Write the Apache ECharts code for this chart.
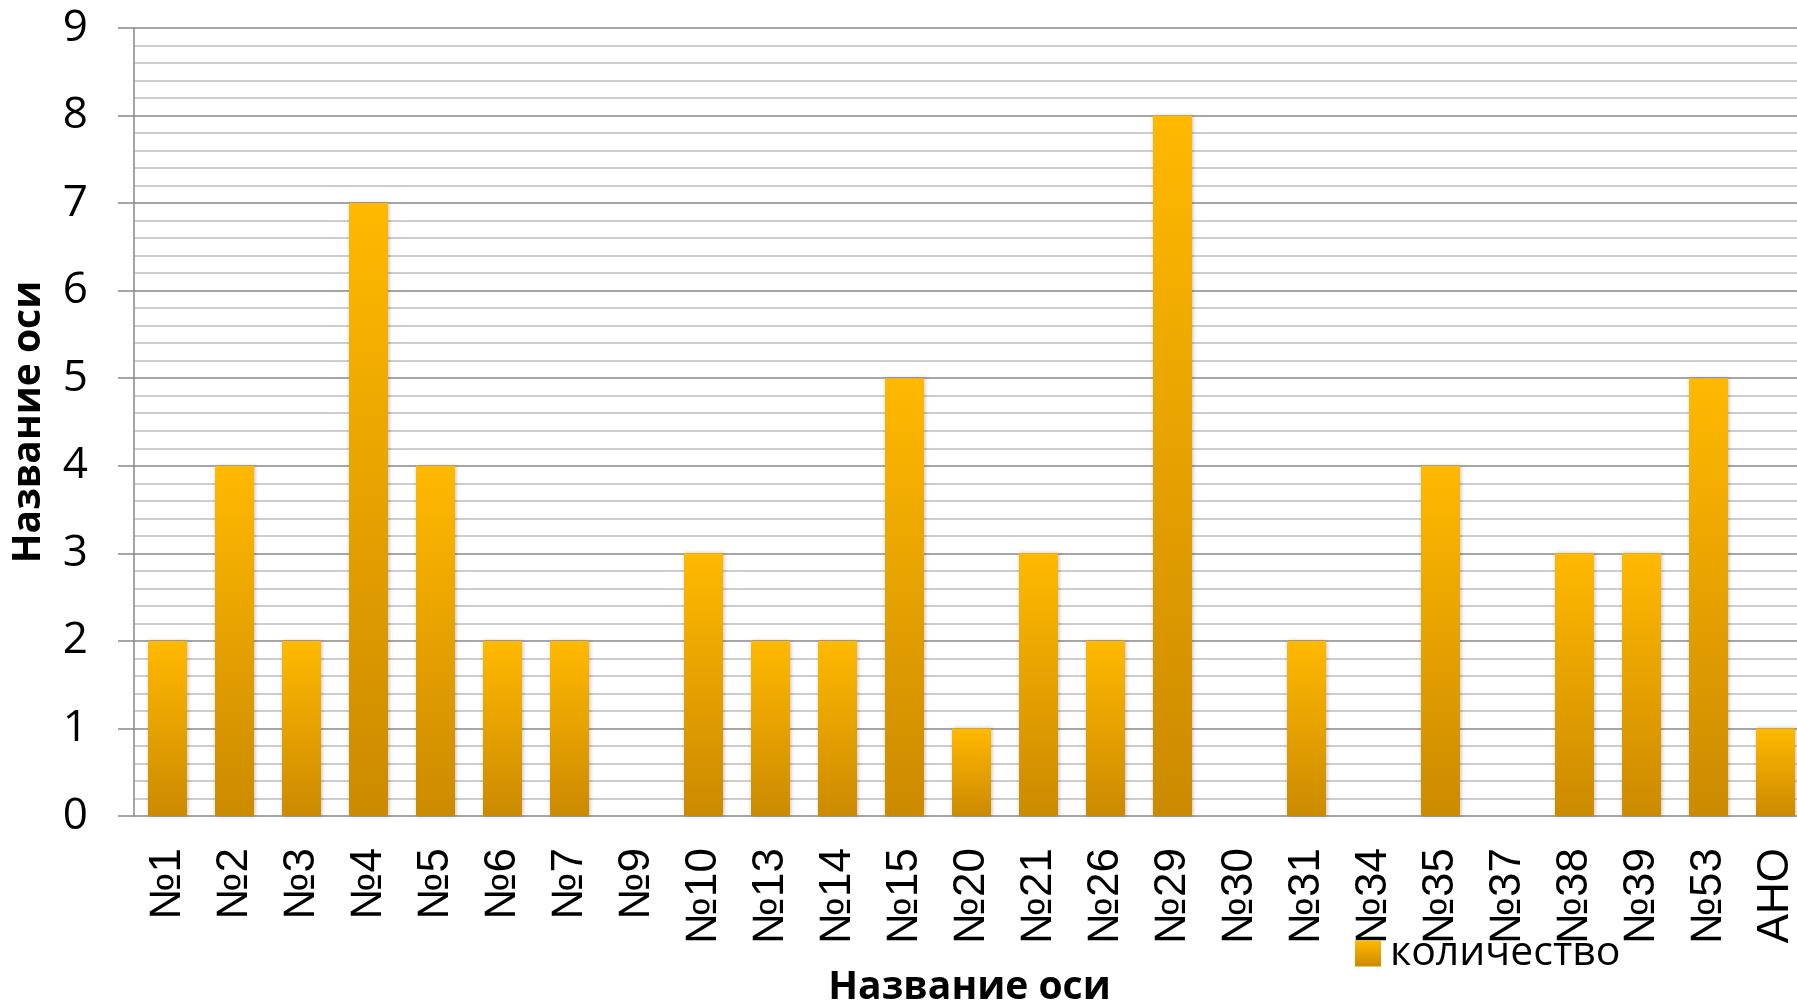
<!DOCTYPE html>
<html>
<head>
<meta charset="utf-8">
<script src="https://cdn.jsdelivr.net/npm/echarts@6/dist/echarts.min.js"></script>
<style>
    html, body { margin: 0; padding: 0; background: #fff; }
    #chart1 { width: 1797px; height: 1002px; }
</style>
</head>
<body>
<div id="chart1"></div>
<script>
// данные
var categories = ['№1', '№2', '№3', '№4', '№5', '№6', '№7', '№9', '№10', '№13', '№14', '№15', '№20',
    '№21', '№26', '№29', '№30', '№31', '№34', '№35', '№37', '№38', '№39', '№53', 'АНО'];
var counts = [2, 4, 2, 7, 4, 2, 2, 0, 3, 2, 2, 5, 1, 3, 2, 8, 0, 2, 0, 4, 0, 3, 3, 5, 1];
var yTicks = [0, 1, 2, 3, 4, 5, 6, 7, 8, 9];

var barColor = new echarts.graphic.LinearGradient(0, 0, 0, 1, [
    {offset: 0, color: '#ffb900'},
    {offset: 1, color: '#cc8a00'}
]);

var myChart = echarts.init(document.getElementById('chart1'));
var option = {
    animation: false,
    textStyle: {fontFamily: 'Open Sans'},
    legend: {
        left: 1350,
        top: 928,
        itemWidth: 26,
        itemHeight: 26,
        itemGap: 10,
        icon: 'rect',
        textStyle: {fontSize: 41, color: '#000', fontFamily: 'Open Sans', padding: [0, 0, 0, 4]},
        data: ['количество']
    },
    grid: {
        left: 134,
        top: 28,
        width: 1675,
        height: 788,
        outerBoundsMode: 'none'
    },
    xAxis: {
        type: 'category',
        data: categories,
        name: 'Название оси',
        nameLocation: 'middle',
        nameGap: 152,
        nameTextStyle: {fontSize: 39, fontWeight: 'bold', color: '#000', fontFamily: 'Open Sans', padding: [0, 4, 0, 0]},
        axisLine: {show: false},
        axisTick: {show: false},
        axisLabel: {
            rotate: 90,
            interval: 0,
            margin: 32,
            fontSize: 44,
            color: '#000',
            fontFamily: 'Liberation Sans'
        }
    },
    yAxis: {
        type: 'value',
        min: yTicks[0],
        max: yTicks[yTicks.length - 1],
        interval: 1,
        name: 'Название оси',
        nameLocation: 'middle',
        nameGap: 86,
        nameTextStyle: {fontSize: 39, fontWeight: 'bold', color: '#000', fontFamily: 'Open Sans'},
        axisLine: {show: true, lineStyle: {color: '#888', width: 1.5}},
        axisTick: {show: true, length: 16, lineStyle: {color: '#888', width: 1.5}},
        axisLabel: {margin: 46, fontSize: 44, color: '#000', fontFamily: 'Open Sans'},
        splitLine: {show: true, lineStyle: {color: '#888', width: 1.5}},
        minorTick: {show: false, splitNumber: 5},
        minorSplitLine: {show: true, lineStyle: {color: '#bdbdbd', width: 1.5}}
    },
    series: [
        {
            name: 'количество',
            type: 'bar',
            data: counts,
            barWidth: 39,
            itemStyle: {
                color: barColor,
                shadowColor: 'rgba(0,0,0,0.25)',
                shadowBlur: 4,
                shadowOffsetX: 1
            }
        }
    ]
};
myChart.setOption(option);
</script>
</body>
</html>
